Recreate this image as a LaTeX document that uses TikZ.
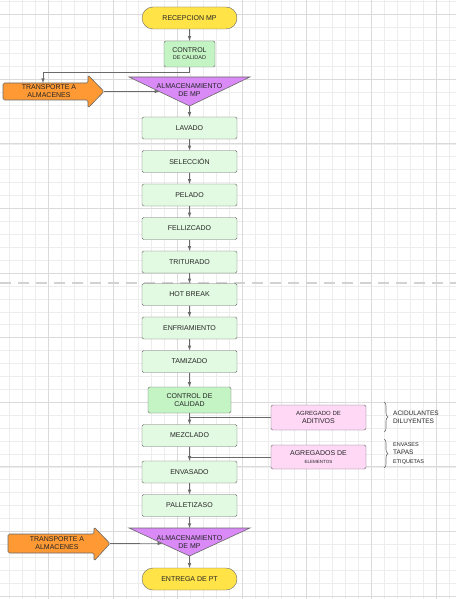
\documentclass[tikz,border=0pt]{standalone}
\usepackage{fontspec}
\setmainfont{Liberation Sans}
\usetikzlibrary{calc, positioning, decorations.pathreplacing}
\definecolor{gridminor}{HTML}{EDEDED}
\definecolor{gridmajor}{HTML}{DADADA}
\definecolor{boxline}{HTML}{6A6A6A}
\definecolor{stepgreen}{HTML}{E2F9E2}
\definecolor{ctrlgreen}{HTML}{C4F4C4}
\definecolor{almviolet}{HTML}{D98AF7}
\definecolor{transorange}{HTML}{FF9933}
\definecolor{endyellow}{HTML}{FFE347}
\definecolor{addpink}{HTML}{FFD8F6}
\tikzset{>=latex}
\tikzset{
  txt/.style={font=\fontsize{7}{8}\selectfont, text=black!85, align=center, inner sep=0pt},
  stepbox/.style={txt, draw=boxline, fill=stepgreen, rounded corners=1.5pt,
    minimum width=95pt, minimum height=22pt},
  ctrlbox/.style={stepbox, fill=ctrlgreen},
  endbox/.style={txt, draw=boxline, fill=endyellow, rounded corners=11pt,
    minimum width=95pt, minimum height=22pt},
  addbox/.style={txt, draw=boxline, fill=addpink, rounded corners=1.5pt,
    minimum width=95pt, minimum height=25pt},
  flow/.style={draw=boxline, line width=0.6pt},
  listtxt/.style={font=\fontsize{6.5}{8.5}\selectfont, text=black!85, align=left, inner sep=0pt, anchor=west},
}

\begin{document}
\begin{tikzpicture}[x=1pt, y=-1pt]
  \useasboundingbox (0,0) rectangle (456,599);
  \fill[white] (0,0) rectangle (456,599);

  % GRID
  \foreach \i in {0,...,34}
    \draw[gridminor, line width=0.5pt] (9.54+\i*12.92,0) -- (9.54+\i*12.92,599);
  \foreach \j in {0,...,46}
    \draw[gridminor, line width=0.5pt] (0,1.68+\j*12.92) -- (456,1.68+\j*12.92);
  \foreach \i in {0,...,6}
    \draw[gridmajor, line width=0.8pt] (48.3+\i*64.6,0) -- (48.3+\i*64.6,599);
  \foreach \j in {0,...,9}
    \draw[gridmajor, line width=0.8pt] (0,14.6+\j*64.6) -- (456,14.6+\j*64.6);
  \draw[gray!35, line width=1.5pt, dash pattern=on 11pt off 7pt] (0,283) -- (456,283);

  \coordinate (A1L) at (129,77);
  \coordinate (A1R) at (250,77);
  \coordinate (A1B) at (189.5,106);
  \coordinate (A2L) at (129,528);
  \coordinate (A2R) at (250,528);
  \coordinate (A2B) at (189.5,556);
  \coordinate (A1T) at (189.5,77);
  \coordinate (A2T) at (189.5,528);
  \coordinate (A1E) at ($(A1L)!0.5!(A1B)$);
  \coordinate (A2E) at ($(A2L)!0.55!(A2B)$);
  \coordinate (TA1) at (104,91.5);
  \coordinate (TA1N) at (43,83);
  \coordinate (TA2) at (110,543.5);
  \coordinate (K1) at (189.5,72);
  \coordinate (J1) at (189.5,417.5);
  \coordinate (J2) at (189.5,457);

  % STORAGE TRIANGLES
  \filldraw[fill=almviolet, draw=boxline, line width=0.6pt] (A1L) -- (A1R) -- (A1B) -- cycle;
  \filldraw[fill=almviolet, draw=boxline, line width=0.6pt] (A2L) -- (A2R) -- (A2B) -- cycle;
  \node[txt] (alm1) at (189.5,90) {ALMACENAMIENTO\\DE MP};
  \node[txt] (alm2) at (189.5,542) {ALMACENAMIENTO\\DE MP};

  % TRANSPORT ARROWS
  \filldraw[fill=transorange, draw=boxline, line width=0.6pt, rounded corners=1.5pt]
    (3,83) -- (88,83) -- (88,75) -- (TA1) -- (88,108) -- (88,100) -- (3,100) -- cycle;
  \filldraw[fill=transorange, draw=boxline, line width=0.6pt, rounded corners=1.5pt]
    (8,534) -- (94,534) -- (94,527) -- (TA2) -- (94,561) -- (94,553) -- (8,553) -- cycle;
  \node[txt] (tra1) at (49,91.5) {TRANSPORTE A\\ALMACENES};
  \node[txt] (tra2) at (57,543) {TRANSPORTE A\\ALMACENES};

  % PROCESS
  \node[endbox] (rec) at (189.5,18) {RECEPCION MP};
  \node[ctrlbox, minimum width=51pt, minimum height=26pt] (ctrl1) at (189.5,54)
    {CONTROL\\[-1pt]{\fontsize{5.5}{6}\selectfont DE CALIDAD}};
  \node[stepbox] (lav) at (189.5,128) {LAVADO};
  \node[stepbox] (sel) at (189.5,161.5) {SELECCIÓN};
  \node[stepbox] (pel) at (189.5,195) {PELADO};
  \node[stepbox] (fel) at (189.5,228.5) {FELLIZCADO};
  \node[stepbox] (tri) at (189.5,262) {TRITURADO};
  \node[stepbox] (hot) at (189.5,294.5) {HOT BREAK};
  \node[stepbox] (enf) at (189.5,328) {ENFRIAMIENTO};
  \node[stepbox] (tam) at (189.5,361.5) {TAMIZADO};
  \node[ctrlbox, minimum width=83pt, minimum height=26pt] (ctrl2) at (189.5,400) {CONTROL DE\\CALIDAD};
  \node[stepbox] (mez) at (189.5,435.5) {MEZCLADO};
  \node[stepbox] (env) at (189.5,472) {ENVASADO};
  \node[stepbox] (pal) at (189.5,505.5) {PALLETIZASO};
  \node[endbox] (ent) at (189.5,579) {ENTREGA DE PT};

  % ADDITIONS
  \node[addbox] (adi) at (318.5,417.5)
    {{\fontsize{6}{7}\selectfont AGREGADO DE}\\ADITIVOS};
  \node[addbox, minimum height=24pt] (ele) at (318.5,457)
    {AGREGADOS DE\\{\fontsize{4.5}{6}\selectfont ELEMENTOS}};
  \draw[boxline, line width=0.6pt, decorate, decoration={brace, amplitude=4pt}] (384,402) -- (384,432);
  \draw[boxline, line width=0.6pt, decorate, decoration={brace, amplitude=4pt}] (384,439) -- (384,468);
  \node[listtxt] (lst1) at (393,417.5) {ACIDULANTES\\DILUYENTES};
  \node[listtxt] (lst2) at (393,453.5)
    {{\fontsize{5.5}{8.5}\selectfont ENVASES}\\TAPAS\\{\fontsize{5.5}{8.5}\selectfont ETIQUETAS}};

  % CONNECTORS
  \draw[flow,->] (rec) -- (ctrl1);
  \draw[flow,->] (ctrl1.south) -- (K1) -| (TA1N);
  \draw[flow,->] (TA1) -- (A1E);
  \draw[flow,->] (A1B) -- (lav);
  \draw[flow,->] (lav) -- (sel);
  \draw[flow,->] (sel) -- (pel);
  \draw[flow,->] (pel) -- (fel);
  \draw[flow,->] (fel) -- (tri);
  \draw[flow,->] (tri) -- (hot);
  \draw[flow,->] (hot) -- (enf);
  \draw[flow,->] (enf) -- (tam);
  \draw[flow,->] (tam) -- (ctrl2);
  \draw[flow,->] (ctrl2) -- (mez);
  \draw[flow,->] (mez) -- (env);
  \draw[flow,->] (env) -- (pal);
  \draw[flow,->] (pal) -- (A2T);
  \draw[flow,->] (TA2) -- (A2E);
  \draw[flow,->] (A2B) -- (ent);
  \draw[flow] (adi.west) -- (J1);
  \draw[flow] (ele.west) -- (J2);
\end{tikzpicture}
\end{document}
